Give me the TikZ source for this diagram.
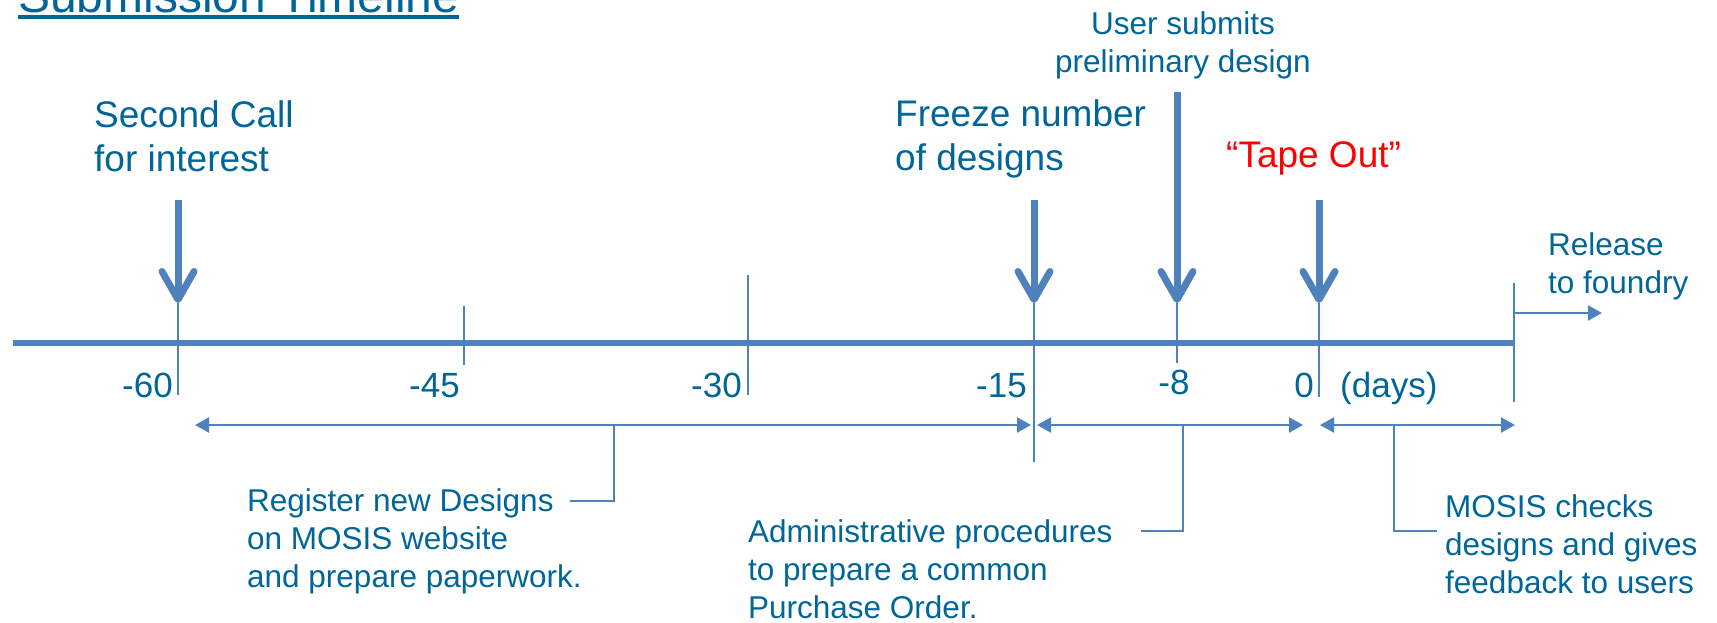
\documentclass[tikz,border=0pt]{standalone}
\usepackage{fontspec}
\setmainfont{Liberation Sans}
\usetikzlibrary{arrows.meta,calc}

\definecolor{slidetext}{RGB}{0,102,153}
\definecolor{slideline}{RGB}{79,129,189}
\definecolor{tapered}{RGB}{255,0,0}

\tikzset{
    bigfont/.style={font=\fontsize{37}{44}\selectfont},
    smallfont/.style={font=\fontsize{31.5}{38}\selectfont},
    ticklabel/.style={text=slidetext, inner sep=0pt, font=\fontsize{35}{42}\selectfont},
    blurb/.style={text=slidetext, inner sep=0pt, align=left, anchor=base west},
    thinline/.style={slideline, line width=2.3pt},
    eventarrow/.style={slideline, line width=7pt,
        -{Straight Barb[length=28pt, width=32pt, round]}},
    spanarrow/.style={slideline, line width=2.5pt,
        {Triangle[length=14pt, width=15pt]}-{Triangle[length=14pt, width=15pt]}}
}

\begin{document}
\begin{tikzpicture}[x=1pt, y=-1pt]
\useasboundingbox (0,0) rectangle (1717,622);

% title
    \node[text=slidetext, inner sep=0pt, anchor=base west,
          font=\fontsize{48}{58}\selectfont] (title) at (18,12) {Submission Timeline};
    \draw[slidetext, line width=3.5pt] ($(title.base west)+(0,5)$) -- ($(title.base east)+(0,5)$);

% horizontal axis
    \coordinate (axisstart) at (13,343);
    \coordinate (axisend) at (1514,343);
    \draw[slideline, line width=5.5pt] (axisstart) -- (axisend);
% ticks
    \foreach \name/\x/\top/\bot in {t60/178/303/395, t45/464/306/365, t30/748/275/395,
                                   t15/1034/303/462, t8/1177/303/363, t0/1319/303/397,
                                   tend/1514/283/402}
    {
        \coordinate (\name top) at (\x,\top);
        \coordinate (\name bot) at (\x,\bot);
        \draw[thinline] (\name top) -- (\name bot);
    }
% labels
    \node[ticklabel, anchor=base east] (l60) at (173,397) {-60};
    \node[ticklabel, anchor=base east] (l45) at (460,397) {-45};
    \node[ticklabel, anchor=base east] (l30) at (742,397) {-30};
    \node[ticklabel, anchor=base east] (l15) at (1027,397) {-15};
    \node[ticklabel, anchor=base] (l8) at (1174,394) {-8};
    \node[ticklabel, anchor=base east] (l0) at (1314,397) {0};
    \node[ticklabel, anchor=base west] (days) at (1340,397) {(days)};

% events
    \coordinate (callstart) at (178,200);
    \coordinate (freezestart) at (1034,200);
    \coordinate (submitstart) at (1177,92);
    \coordinate (tapestart) at (1319,200);
    \draw[eventarrow] (callstart) -- (t60top);
    \draw[eventarrow] (freezestart) -- (t15top);
    \draw[eventarrow] (submitstart) -- (t8top);
    \draw[eventarrow] (tapestart) -- (t0top);

    % base of a two-line node is its last line
    \node[blurb, bigfont] (call) at (94,171) {Second Call\\for interest};
    \node[blurb, bigfont] (freeze) at (895,170) {Freeze number\\of designs};
    \node[text=slidetext, inner sep=0pt, align=center, anchor=base, smallfont]
        (submit) at (1183,72) {User submits\\preliminary design};
    \node[inner sep=0pt, anchor=base west, bigfont, text=tapered] (tape) at (1226,167) {“Tape Out”};
    \node[blurb, smallfont] (release) at (1548,293) {Release\\to foundry};

% release to foundry
    \coordinate (foundry) at (1602,313);
    \draw[thinline, -{Triangle[length=14pt, width=15pt]}] (tendtop |- foundry) -- (foundry);

% spans
    \coordinate (span1a) at (195,425);
    \coordinate (span1b) at (1031,425);
    \coordinate (span2a) at (1037,425);
    \coordinate (span2b) at (1303,425);
    \coordinate (span3a) at (1320,425);
    \coordinate (span3b) at (1515,425);
    \draw[spanarrow] (span1a) -- (span1b);
    \draw[spanarrow] (span2a) -- (span2b);
    \draw[spanarrow] (span3a) -- (span3b);

% notes
    \node[blurb, smallfont] (register) at (247,587)
        {Register new Designs\\on MOSIS website\\and prepare paperwork.};
    \node[blurb, smallfont] (admin) at (748,618)
        {Administrative procedures\\to prepare a common\\Purchase Order.};
    \node[blurb, smallfont] (checks) at (1445,593)
        {MOSIS checks\\designs and gives\\feedback to users};

    \coordinate (registerend) at (570,501);
    \coordinate (adminend) at (1141,531);
    \coordinate (checksend) at (1437,531);
    \draw[thinline] (614,425) |- (registerend);
    \draw[thinline] (1183,425) |- (adminend);
    \draw[thinline] (1394,425) |- (checksend);

\end{tikzpicture}
\end{document}
